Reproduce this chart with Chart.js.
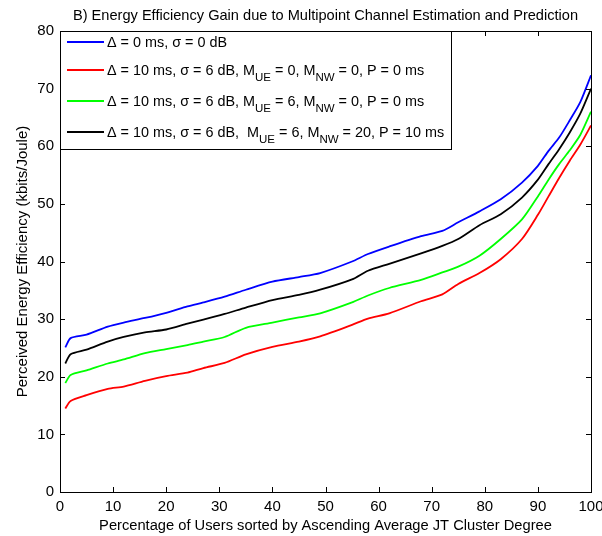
<!DOCTYPE html>
<html>
<head>
<meta charset="utf-8">
<script src="https://cdn.jsdelivr.net/npm/chart.js@4.4.1/dist/chart.umd.min.js"></script>
<style>
  html, body { margin: 0; padding: 0; background: #fff; }
  #wrap { width: 602px; height: 536px; }
</style>
</head>
<body>
<div id="wrap"><canvas id="chart" width="602" height="536"></canvas></div>
<script>
// ==================== DATA ====================
const percentUsers = [1, 2, 5, 9, 12, 16, 20, 24, 27, 31, 35, 40, 45, 49, 55, 58, 62, 68, 72, 75, 79, 83, 87, 90, 92, 94, 96, 98, 100];
const idealEE  = [25.1, 26.7, 27.3, 28.7, 29.4, 30.2, 31.1, 32.2, 32.9, 33.9, 35.1, 36.5, 37.3, 38.0, 40.0, 41.3, 42.6, 44.4, 45.3, 46.8, 48.7, 50.8, 53.7, 56.6, 59.2, 61.5, 64.5, 67.7, 72.3];
const noPredEE = [14.5, 15.8, 16.8, 17.9, 18.3, 19.3, 20.1, 20.7, 21.5, 22.4, 23.9, 25.2, 26.1, 27.0, 29.0, 30.1, 31.0, 33.1, 34.3, 36.1, 38.0, 40.4, 43.9, 48.1, 51.3, 54.5, 57.5, 60.3, 63.6];
const ueEstEE  = [18.9, 20.3, 21.1, 22.3, 23.0, 24.1, 24.8, 25.5, 26.1, 26.9, 28.5, 29.4, 30.3, 31.0, 32.9, 34.1, 35.4, 36.8, 38.1, 39.1, 41.0, 43.9, 47.3, 51.3, 54.2, 56.9, 59.3, 62.0, 66.0];
const fullEE   = [22.3, 23.9, 24.7, 26.1, 26.9, 27.7, 28.2, 29.2, 29.9, 30.9, 32.0, 33.3, 34.2, 35.1, 36.9, 38.4, 39.6, 41.4, 42.7, 43.9, 46.3, 48.2, 51.1, 54.2, 56.9, 59.5, 62.4, 65.7, 70.0];

const xTicks = [0, 10, 20, 30, 40, 50, 60, 70, 80, 90, 100];
const yTicks = [0, 10, 20, 30, 40, 50, 60, 70, 80];

// legend labels: [text, isSubscript]
const legendLabels = [
    [['\u0394 = 0 ms, \u03c3 = 0 dB', false]],
    [['\u0394 = 10 ms, \u03c3 = 6 dB, M', false], ['UE', true], [' = 0, M', false], ['NW', true], [' = 0, P = 0 ms', false]],
    [['\u0394 = 10 ms, \u03c3 = 6 dB, M', false], ['UE', true], [' = 6, M', false], ['NW', true], [' = 0, P = 0 ms', false]],
    [['\u0394 = 10 ms, \u03c3 = 6 dB,  M', false], ['UE', true], [' = 6, M', false], ['NW', true], [' = 20, P = 10 ms', false]]
];
const seriesColors = ['#0000ff', '#ff0000', '#00ff00', '#000000'];
const seriesValues = [idealEE, noPredEE, ueEstEE, fullEE];

const FONT = 'Liberation Sans, Arial, sans-serif';

function toPoints(values) {
    return percentUsers.map((x, i) => ({ x: x, y: values[i] }));
}

// ==================== PLUGINS ====================
// MATLAB style box with inward ticks on all four sides
const boxTicks = {
    id: 'boxTicks',
    afterDatasetsDraw(chart) {
        const { ctx, chartArea: a, scales } = chart;
        const len = 5;
        ctx.save();
        ctx.strokeStyle = '#000';
        ctx.lineWidth = 1;
        ctx.beginPath();
        xTicks.forEach(v => {
            const px = Math.round(scales.x.getPixelForValue(v)) + 0.5;
            ctx.moveTo(px, a.bottom); ctx.lineTo(px, a.bottom - len);
            ctx.moveTo(px, a.top); ctx.lineTo(px, a.top + len);
        });
        yTicks.forEach(v => {
            const py = Math.round(scales.y.getPixelForValue(v)) + 0.5;
            ctx.moveTo(a.left, py); ctx.lineTo(a.left + len, py);
            ctx.moveTo(a.right, py); ctx.lineTo(a.right - len, py);
        });
        ctx.stroke();
        ctx.strokeRect(Math.round(a.left) + 0.5, Math.round(a.top) + 0.5, Math.round(a.right - a.left), Math.round(a.bottom - a.top));
        ctx.restore();
    }
};

// title centred over the plot area
const plotTitle = {
    id: 'plotTitle',
    afterDraw(chart) {
        const { ctx, chartArea: a } = chart;
        ctx.save();
        ctx.fillStyle = '#000';
        ctx.font = '14.6px ' + FONT;
        ctx.textAlign = 'center';
        ctx.textBaseline = 'alphabetic';
        ctx.fillText('B) Energy Efficiency Gain due to Multipoint Channel Estimation and Prediction', (a.left + a.right) / 2, 20);
        ctx.restore();
    }
};

// legend box with subscripts
const subLegend = {
    id: 'subLegend',
    afterDraw(chart) {
        const { ctx, chartArea: a } = chart;
        const boxW = 391, boxH = 118;
        const rowsY = [42, 70, 101, 132];
        const x0 = Math.round(a.left) + 0.5, y0 = Math.round(a.top) + 0.5;
        ctx.save();
        ctx.fillStyle = '#fff';
        ctx.fillRect(x0, y0, boxW, boxH);
        ctx.strokeStyle = '#000';
        ctx.lineWidth = 1;
        ctx.strokeRect(x0, y0, boxW, boxH);
        legendLabels.forEach((parts, i) => {
            const y = rowsY[i];
            ctx.strokeStyle = seriesColors[i];
            ctx.lineWidth = 2;
            ctx.beginPath();
            ctx.moveTo(a.left + 7, y);
            ctx.lineTo(a.left + 44, y);
            ctx.stroke();
            let x = a.left + 47;
            ctx.fillStyle = '#000';
            ctx.textBaseline = 'alphabetic';
            ctx.textAlign = 'left';
            parts.forEach(([txt, sub]) => {
                ctx.font = (sub ? '11.5px ' : '14.4px ') + FONT;
                ctx.fillText(txt, x, sub ? y + 11 : y + 5);
                x += ctx.measureText(txt).width;
            });
        });
        ctx.restore();
    }
};

// ==================== CHART ====================
new Chart(document.getElementById('chart'), {
    type: 'line',
    data: {
        datasets: seriesValues.map((vals, i) => ({
            data: toPoints(vals),
            borderColor: seriesColors[i],
            borderWidth: 1.8,
            pointRadius: 0,
            tension: 0.25,
            fill: false
        }))
    },
    options: {
        responsive: false,
        animation: false,
        layout: { padding: { top: 31, right: 11, bottom: 0, left: 0 } },
        plugins: { legend: { display: false }, tooltip: { enabled: false }, title: { display: false } },
        scales: {
            x: {
                type: 'linear', min: 0, max: 100,
                afterBuildTicks: s => { s.ticks = xTicks.map(v => ({ value: v })); },
                afterFit: s => { s.height = 44; s.paddingLeft = 0; s.paddingRight = 0; },
                grid: { display: false, drawTicks: false },
                border: { display: false },
                ticks: { color: '#000', font: { family: FONT, size: 15 }, padding: 6, maxRotation: 0 },
                title: { display: true, text: 'Percentage of Users sorted by Ascending Average JT Cluster Degree', color: '#000', font: { family: FONT, size: 14.7 }, padding: { top: 0, bottom: 1 } }
            },
            y: {
                min: 0, max: 80,
                afterBuildTicks: s => { s.ticks = yTicks.map(v => ({ value: v })); },
                afterFit: s => { s.width = 60; },
                grid: { display: false, drawTicks: false },
                border: { display: false },
                ticks: { color: '#000', font: { family: FONT, size: 15 }, padding: 6 },
                title: { display: true, text: 'Perceived Energy Efficiency (kbits/Joule)', color: '#000', font: { family: FONT, size: 15 }, padding: { top: 14, bottom: 0 } }
            }
        }
    },
    plugins: [boxTicks, subLegend, plotTitle]
});
</script>
</body>
</html>
